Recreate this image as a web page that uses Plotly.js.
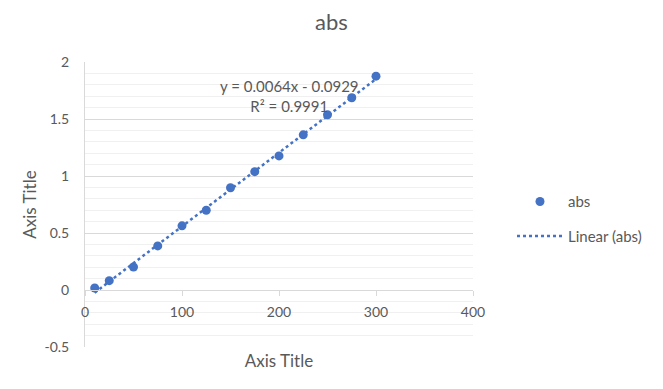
<!DOCTYPE html>
<html>
<head>
<meta charset="utf-8">
<script src="https://cdn.plot.ly/plotly-3.0.1.min.js"></script>
<style>html,body{margin:0;padding:0;background:#fff;}#chart{width:663px;height:389px;}</style>
</head>
<body>
<div id="chart"></div>
<script>
const xValues = [10, 25, 50, 75, 100, 125, 150, 175, 200, 225, 250, 275, 300];
const absValues = [0.018, 0.082, 0.202, 0.387, 0.563, 0.70, 0.897, 1.038, 1.176, 1.361, 1.537, 1.686, 1.876];
const xTicks = [0, 100, 200, 300, 400];
const yTicks = [-0.5, 0, 0.5, 1, 1.5, 2];
const equationText = "y = 0.0064x - 0.0929<br>R² = 0.9991";

// least squares trendline from the data
const n = xValues.length;
const mx = xValues.reduce((a, b) => a + b, 0) / n;
const my = absValues.reduce((a, b) => a + b, 0) / n;
let sxy = 0, sxx = 0;
for (let i = 0; i < n; i++) { sxy += (xValues[i] - mx) * (absValues[i] - my); sxx += (xValues[i] - mx) ** 2; }
const slope = sxy / sxx, intercept = my - slope * mx;
const trendX = [Math.min(...xValues), Math.max(...xValues)];
const trendY = trendX.map(x => slope * x + intercept);

const font = "Lato, 'Open Sans', sans-serif";
const grey = "#595959";

const traces = [
  {x: xValues, y: absValues, type: "scatter", mode: "markers", name: "abs",
   legendgroup: "a", marker: {color: "#4472C4", size: 9}},
  {x: trendX, y: trendY, type: "scatter", mode: "lines", name: "Linear (abs)",
   legendgroup: "b", line: {color: "#4472C4", width: 2.5, dash: "dot"}}
];

const layout = {
  width: 663, height: 389,
  margin: {l: 85, r: 190, t: 62, b: 42},
  paper_bgcolor: "#fff", plot_bgcolor: "#fff",
  font: {family: font, color: grey, size: 13},
  title: {text: "abs", font: {family: font, size: 22, color: grey},
          x: 0.5, xanchor: "center", xref: "container", y: 1 - 22/389, yanchor: "middle", yref: "container"},
  xaxis: {range: [0, 400], tickvals: xTicks, ticktext: xTicks.map(String),
          anchor: "free", position: 0.2, showgrid: false, zeroline: false,
          showline: true, linecolor: "#d9d9d9", linewidth: 1,
          ticks: "outside", ticklen: 5, tickcolor: "#d9d9d9",
          tickfont: {size: 14, color: grey}, ticklabelstandoff: 4,
          title: {text: "Axis Title", font: {size: 17, color: grey}, standoff: 36}},
  yaxis: {range: [-0.5, 2], tickvals: yTicks, ticktext: yTicks.map(String),
          showgrid: true, gridcolor: "#d9d9d9", gridwidth: 1, zeroline: false,
          showline: true, linecolor: "#d9d9d9", linewidth: 1,
          ticks: "", tickfont: {size: 14, color: grey}, ticklabelstandoff: 12,
          minor: {dtick: 0.1, showgrid: true, gridcolor: "#f0f0f0", gridwidth: 1},
          title: {text: "Axis Title", font: {size: 17, color: grey}, standoff: 3}},
  showlegend: true,
  legend: {x: (512 - 85) / 388, xanchor: "left", y: 0.45, yanchor: "middle",
           font: {size: 15, color: grey}, traceorder: "grouped", tracegroupgap: 12,
           itemwidth: 46, bgcolor: "rgba(0,0,0,0)"},
  annotations: [{x: 211, y: 1.70, xref: "x", yref: "y", text: equationText, showarrow: false,
                 font: {size: 15, color: grey}, align: "center"}]
};

Plotly.newPlot("chart", traces, layout, {displayModeBar: false, staticPlot: true});
</script>
</body>
</html>
